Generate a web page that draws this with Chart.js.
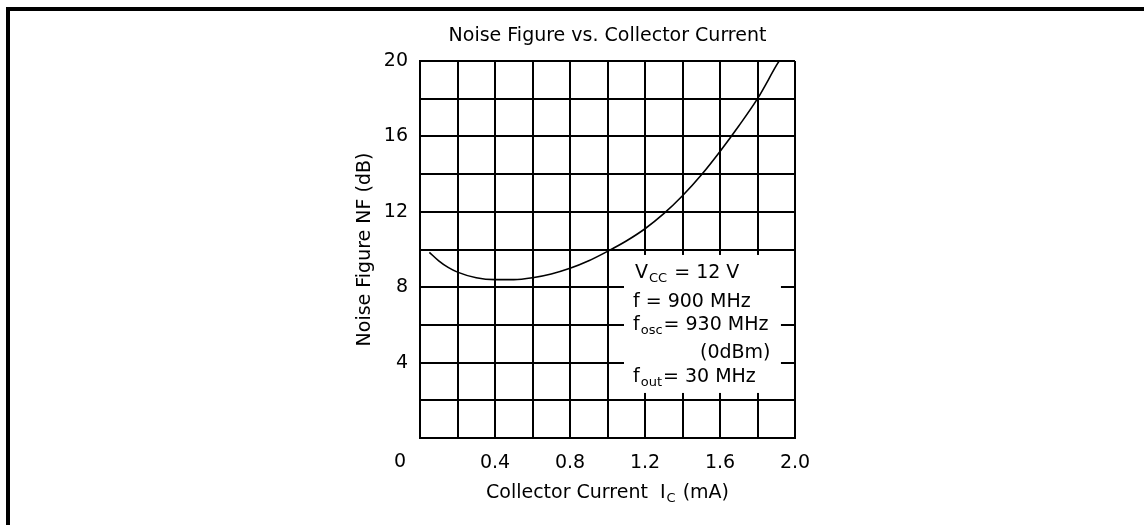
<!DOCTYPE html>
<html>
<head>
<meta charset="utf-8">
<script src="https://cdn.jsdelivr.net/npm/chart.js@4.4.1/dist/chart.umd.min.js"></script>
<style>
  html, body { margin: 0; padding: 0; background: #fff; width: 1144px; height: 525px; overflow: hidden; }
  #frame { position: absolute; left: 6px; top: 7px; right: 0; bottom: 0; border-top: 4px solid #000; border-left: 4px solid #000; }
  #c { position: absolute; left: 0; top: 0; }
</style>
</head>
<body>
<div id="frame"></div>
<canvas id="c" width="1144" height="525"></canvas>
<script>
// ---- data ----
const currentMA = [0.05, 0.1, 0.15, 0.2, 0.3, 0.4, 0.5, 0.6, 0.7, 0.8, 0.9, 1.0, 1.1, 1.2, 1.3, 1.4, 1.5, 1.6, 1.7, 1.8, 1.9, 1.915];
const noiseFigureDB = [9.85, 9.4, 9.05, 8.8, 8.5, 8.4, 8.4, 8.5, 8.7, 9.0, 9.4, 9.9, 10.45, 11.1, 11.9, 12.85, 13.95, 15.2, 16.55, 18.0, 19.75, 20.0];
const xTickLabels = ['0.4', '0.8', '1.2', '1.6', '2.0'];
const yTickLabels = ['4', '8', '12', '16', '20'];
const originLabel = '0';
const chartTitle = 'Noise Figure vs. Collector Current';
const yAxisTitle = 'Noise Figure NF (dB)';
const xAxisTitleParts = [['Collector Current  I', false], ['C', true], [' (mA)', false]];
const conditionLines = [
  [['V', false], ['CC', true], [' = 12 V', false]],
  [['f = 900 MHz', false]],
  [['f', false], ['osc', true], ['= 930 MHz', false]],
  [['(0dBm)', false]],
  [['f', false], ['out', true], ['= 30 MHz', false]]
];

const FONT = 'DejaVu Sans';
Chart.defaults.font.family = FONT;
Chart.defaults.font.size = 19;
Chart.defaults.color = '#000';

function drawRich(ctx, parts, x, y, align) {
  const mainF = '19px "' + FONT + '"';
  const subF = '13px "' + FONT + '"';
  let total = 0;
  const widths = parts.map(([t, sub]) => { ctx.font = sub ? subF : mainF; const w = ctx.measureText(t).width + (sub ? 2 : 0); total += w; return w; });
  let cx = align === 'center' ? x - total / 2 : x;
  ctx.textAlign = 'left';
  ctx.textBaseline = 'middle';
  parts.forEach(([t, sub], i) => {
    ctx.font = sub ? subF : mainF;
    ctx.fillText(t, cx + (sub ? 1 : 0), sub ? y + 6 : y);
    cx += widths[i];
  });
}

const extrasPlugin = {
  id: 'extras',
  afterDatasetsDraw(chart) {
    const {ctx, scales: {x, y}} = chart;
    // legend box of test conditions
    const left = x.getPixelForValue(1.088), right = x.getPixelForValue(1.925);
    const top = y.getPixelForValue(9.71), bottom = y.getPixelForValue(2.39);
    ctx.save();
    ctx.fillStyle = '#fff';
    ctx.fillRect(left, top, right - left, bottom - top);
    ctx.fillStyle = '#000';
    const offs = [18, 47, 70, 98, 122];
    const xs = [11, 9, 9, 76, 9];
    conditionLines.forEach((parts, i) => drawRich(ctx, parts, left + xs[i], top + offs[i], 'left'));
    ctx.restore();
  },
  afterDraw(chart) {
    const {ctx, scales: {x, y}, chartArea} = chart;
    ctx.save();
    ctx.fillStyle = '#000';
    ctx.font = '19px "' + FONT + '"';
    ctx.textAlign = 'right';
    ctx.textBaseline = 'middle';
    ctx.fillText(originLabel, y.right - 14, chartArea.bottom + 24);
    drawRich(ctx, xAxisTitleParts, (chartArea.left + chartArea.right) / 2, chartArea.bottom + 55, 'center');
    ctx.restore();
  }
};

new Chart(document.getElementById('c'), {
  type: 'line',
  data: {
    datasets: [{
      data: currentMA.map((v, i) => ({x: v, y: noiseFigureDB[i]})),
      borderColor: '#000',
      borderWidth: 1.6,
      pointRadius: 0,
      fill: false,
      cubicInterpolationMode: 'monotone'
    }]
  },
  options: {
    responsive: false,
    animation: false,
    devicePixelRatio: 1,
    layout: { padding: { top: 25, left: 300, right: 349, bottom: 0 } },
    plugins: {
      legend: { display: false },
      tooltip: { enabled: false },
      title: {
        display: true, text: chartTitle, fullSize: false,
        font: { size: 19, weight: 'normal', family: FONT }, color: '#000',
        padding: { top: 0, bottom: 13.2 }
      }
    },
    scales: {
      x: {
        type: 'linear', min: 0, max: 2.0,
        afterFit(s) { s.height = 87; },
        grid: { color: '#000', lineWidth: 2, drawTicks: false },
        border: { color: '#000', width: 2 },
        ticks: {
          stepSize: 0.2, autoSkip: false, maxRotation: 0, padding: 14,
          callback(v) { const s = Number(v).toFixed(1); return xTickLabels.includes(s) ? s : ''; }
        }
      },
      y: {
        type: 'linear', min: 0, max: 20,
        afterFit(s) { s.width = 120; },
        grid: { color: '#000', lineWidth: 2, drawTicks: false },
        border: { color: '#000', width: 2 },
        title: { display: true, text: yAxisTitle, font: { size: 19, family: FONT }, color: '#000', padding: { top: 54, bottom: 0 } },
        ticks: {
          stepSize: 2, autoSkip: false, padding: 12,
          callback(v) { const s = String(Math.round(v)); return yTickLabels.includes(s) ? s : ''; }
        }
      }
    }
  },
  plugins: [extrasPlugin]
});
</script>
</body>
</html>
